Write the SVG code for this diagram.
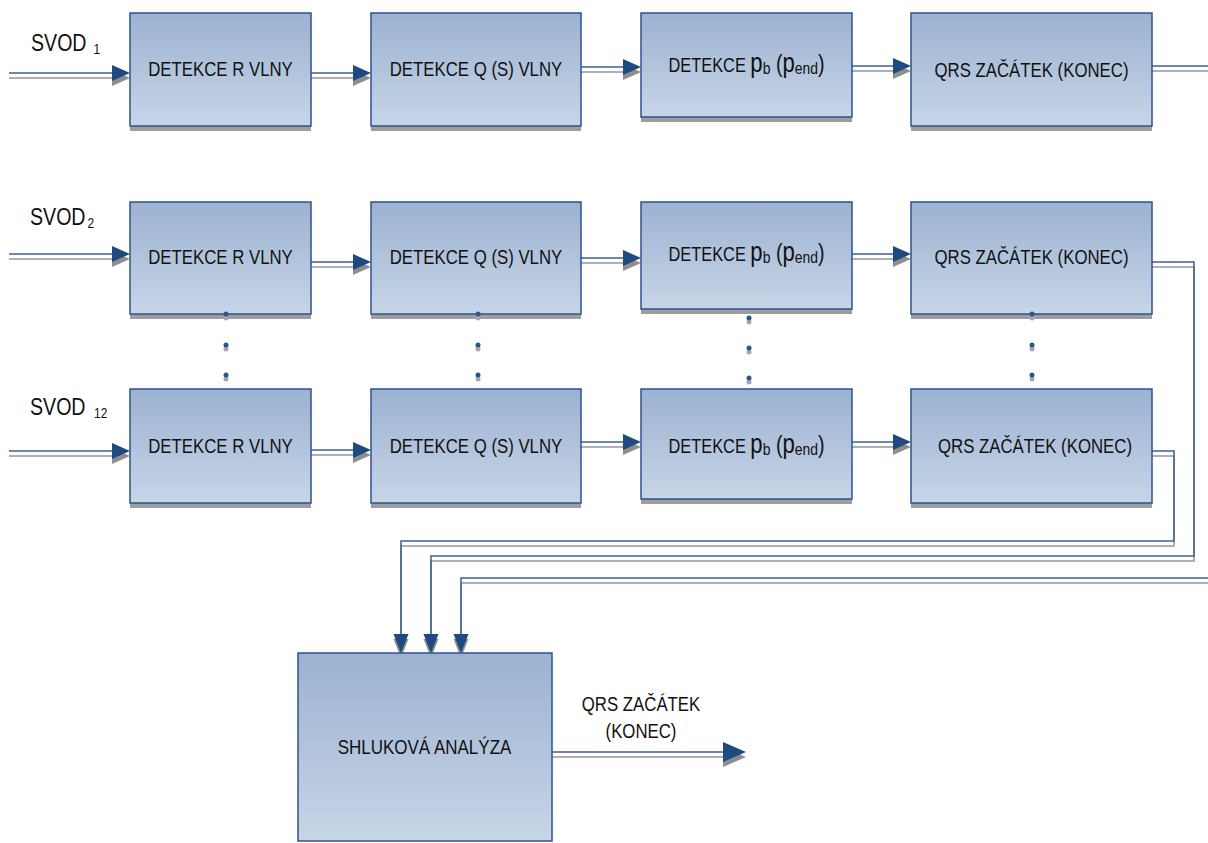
<svg xmlns="http://www.w3.org/2000/svg" width="1208" height="843" viewBox="0 0 1208 843">
<defs>
<linearGradient id="bg" x1="0" y1="0" x2="0" y2="1">
<stop offset="0" stop-color="#9CB2D1"/><stop offset="1" stop-color="#C7D5E7"/>
</linearGradient>
<path id="ar" d="M0,0 L-18,-8 L-18,8 Z"/>
<path id="ad" d="M0,0 L-7.5,-19 L7.5,-19 Z"/>
<path id="ab" d="M0,0 L-23,-10 L-23,10 Z"/>
</defs>
<style>
.box{fill:url(#bg);stroke:#2F528F;stroke-width:1.5}
.sh{fill:#9E9E9E}
.w{fill:none;stroke:#3B5F95;stroke-width:1.5}
.ws{fill:none;stroke:#B0B0B0;stroke-width:2}
.ah{fill:#1F4A7F}
.ahs{fill:#8E8E8E}
.t{font-family:"Liberation Sans",Arial,sans-serif;font-size:20px;fill:#111;text-anchor:middle}
.lb{font-family:"Liberation Sans",Arial,sans-serif;font-size:24.5px;fill:#111}
.dot{fill:#2B5590}
.dsh{fill:#A8A8A8}
</style>
<rect width="1208" height="843" fill="#fff"/>

<g id="labels">
<text class="lb" transform="translate(31,51) scale(0.8,1)">SVOD<tspan x="78" dy="3" font-size="15">1</tspan></text>
<text class="lb" transform="translate(30,225) scale(0.8,1)">SVOD<tspan x="72" dy="3" font-size="15">2</tspan></text>
<text class="lb" transform="translate(30,415) scale(0.8,1)">SVOD<tspan x="80" dy="3" font-size="15">12</tspan></text>
<text class="t" transform="translate(641,711) scale(0.84,1)">QRS ZAČÁTEK</text>
<text class="t" transform="translate(641,738) scale(0.84,1)">(KONEC)</text>
</g>

<g id="connectors">
<g class="ws" transform="translate(0,5)">
<path d="M9,73 H112"/><path d="M311,73 H353"/><path d="M581,67 H623"/><path d="M852,66 H893"/><path d="M1152,66 H1208"/>
<path d="M9,254 H112"/><path d="M311,262 H353"/><path d="M581,258 H623"/><path d="M852,254 H893"/>
<path d="M1152,262 H1194 V556 H431 V634"/>
<path d="M9,451 H112"/><path d="M311,450 H353"/><path d="M581,442 H623"/><path d="M852,442 H893"/>
<path d="M1152,451 H1174 V541 H401 V634"/>
<path d="M1208,578 H461 V634"/>
<path d="M552,752 H723"/>
</g>
<g class="w">
<path d="M9,73 H112"/><path d="M311,73 H353"/><path d="M581,67 H623"/><path d="M852,66 H893"/><path d="M1152,66 H1208"/>
<path d="M9,254 H112"/><path d="M311,262 H353"/><path d="M581,258 H623"/><path d="M852,254 H893"/>
<path d="M1152,262 H1194 V556 H431 V634"/>
<path d="M9,451 H112"/><path d="M311,450 H353"/><path d="M581,442 H623"/><path d="M852,442 H893"/>
<path d="M1152,451 H1174 V541 H401 V634"/>
<path d="M1208,578 H461 V634"/>
<path d="M552,752 H723"/>
</g>
<g class="ahs">
<use href="#ar" x="130" y="78"/><use href="#ar" x="371" y="78"/><use href="#ar" x="641" y="72"/><use href="#ar" x="911" y="71"/>
<use href="#ar" x="130" y="259"/><use href="#ar" x="371" y="267"/><use href="#ar" x="641" y="263"/><use href="#ar" x="911" y="259"/>
<use href="#ar" x="130" y="456"/><use href="#ar" x="371" y="455"/><use href="#ar" x="641" y="447"/><use href="#ar" x="911" y="447"/>
<use href="#ad" x="401" y="658"/><use href="#ad" x="431" y="658"/><use href="#ad" x="461" y="658"/>
<use href="#ab" x="746" y="757"/>
</g>
<g class="ah">
<use href="#ar" x="130" y="73"/><use href="#ar" x="371" y="73"/><use href="#ar" x="641" y="67"/><use href="#ar" x="911" y="66"/>
<use href="#ar" x="130" y="254"/><use href="#ar" x="371" y="262"/><use href="#ar" x="641" y="258"/><use href="#ar" x="911" y="254"/>
<use href="#ar" x="130" y="451"/><use href="#ar" x="371" y="450"/><use href="#ar" x="641" y="442"/><use href="#ar" x="911" y="442"/>
<use href="#ad" x="401" y="653"/><use href="#ad" x="431" y="653"/><use href="#ad" x="461" y="653"/>
<use href="#ab" x="746" y="752"/>
</g>
</g>

<g id="A1"><rect class="sh" x="130" y="18" width="181" height="113"/><rect class="box" x="130" y="13" width="181" height="113"/><text class="t" transform="translate(220.5,76) scale(0.84,1)">DETEKCE R VLNY</text></g>
<g id="B1"><rect class="sh" x="371" y="18" width="210" height="113"/><rect class="box" x="371" y="13" width="210" height="113"/><text class="t" transform="translate(476,76) scale(0.84,1)">DETEKCE Q (S) VLNY</text></g>
<g id="C1"><rect class="sh" x="641" y="18" width="211" height="104"/><rect class="box" x="641" y="13" width="211" height="104"/><text class="t" transform="translate(746.5,72) scale(0.82,1)">DETEKCE <tspan font-size="27">p</tspan><tspan font-size="17" dy="2">b</tspan><tspan font-size="24" dy="-2"> (</tspan><tspan font-size="27">p</tspan><tspan font-size="17" dy="2">end</tspan><tspan font-size="24" dy="-2">)</tspan></text></g>
<g id="D1"><rect class="sh" x="911" y="18" width="241" height="113"/><rect class="box" x="911" y="13" width="241" height="113"/><text class="t" transform="translate(1031.5,77) scale(0.84,1)">QRS ZAČÁTEK (KONEC)</text></g>

<g id="A2"><rect class="sh" x="130" y="207" width="181" height="112"/><rect class="box" x="130" y="202" width="181" height="112"/><text class="t" transform="translate(220.5,264) scale(0.84,1)">DETEKCE R VLNY</text></g>
<g id="B2"><rect class="sh" x="371" y="207" width="210" height="112"/><rect class="box" x="371" y="202" width="210" height="112"/><text class="t" transform="translate(476,264) scale(0.84,1)">DETEKCE Q (S) VLNY</text></g>
<g id="C2"><rect class="sh" x="641" y="207" width="211" height="107"/><rect class="box" x="641" y="202" width="211" height="107"/><text class="t" transform="translate(746.5,261) scale(0.82,1)">DETEKCE <tspan font-size="27">p</tspan><tspan font-size="17" dy="2">b</tspan><tspan font-size="24" dy="-2"> (</tspan><tspan font-size="27">p</tspan><tspan font-size="17" dy="2">end</tspan><tspan font-size="24" dy="-2">)</tspan></text></g>
<g id="D2"><rect class="sh" x="911" y="207" width="241" height="112"/><rect class="box" x="911" y="202" width="241" height="112"/><text class="t" transform="translate(1031.5,264) scale(0.84,1)">QRS ZAČÁTEK (KONEC)</text></g>

<g id="A3"><rect class="sh" x="130" y="394" width="181" height="114"/><rect class="box" x="130" y="389" width="181" height="114"/><text class="t" transform="translate(220.5,453) scale(0.84,1)">DETEKCE R VLNY</text></g>
<g id="B3"><rect class="sh" x="371" y="394" width="210" height="114"/><rect class="box" x="371" y="389" width="210" height="114"/><text class="t" transform="translate(476,453) scale(0.84,1)">DETEKCE Q (S) VLNY</text></g>
<g id="C3"><rect class="sh" x="641" y="394" width="211" height="110"/><rect class="box" x="641" y="389" width="211" height="110"/><text class="t" transform="translate(746.5,453) scale(0.82,1)">DETEKCE <tspan font-size="27">p</tspan><tspan font-size="17" dy="2">b</tspan><tspan font-size="24" dy="-2"> (</tspan><tspan font-size="27">p</tspan><tspan font-size="17" dy="2">end</tspan><tspan font-size="24" dy="-2">)</tspan></text></g>
<g id="D3"><rect class="sh" x="911" y="394" width="241" height="114"/><rect class="box" x="911" y="389" width="241" height="114"/><text class="t" transform="translate(1035,453) scale(0.84,1)">QRS ZAČÁTEK (KONEC)</text></g>

<g id="E"><rect class="box" x="298" y="653" width="254" height="188"/><text class="t" transform="translate(424.5,754) scale(0.85,1)">SHLUKOVÁ ANALÝZA</text></g>

<g id="dots">
<g class="dsh">
<circle cx="226" cy="318" r="2.5"/><circle cx="226" cy="349" r="2.5"/><circle cx="226" cy="379" r="2.5"/>
<circle cx="478" cy="318" r="2.5"/><circle cx="478" cy="349" r="2.5"/><circle cx="478" cy="379" r="2.5"/>
<circle cx="749" cy="322" r="2.5"/><circle cx="749" cy="352" r="2.5"/><circle cx="749" cy="382" r="2.5"/>
<circle cx="1032" cy="318" r="2.5"/><circle cx="1032" cy="349" r="2.5"/><circle cx="1032" cy="379" r="2.5"/>
</g>
<g class="dot">
<circle cx="226" cy="314" r="2.5"/><circle cx="226" cy="345" r="2.5"/><circle cx="226" cy="375" r="2.5"/>
<circle cx="478" cy="314" r="2.5"/><circle cx="478" cy="345" r="2.5"/><circle cx="478" cy="375" r="2.5"/>
<circle cx="749" cy="318" r="2.5"/><circle cx="749" cy="348" r="2.5"/><circle cx="749" cy="378" r="2.5"/>
<circle cx="1032" cy="314" r="2.5"/><circle cx="1032" cy="345" r="2.5"/><circle cx="1032" cy="375" r="2.5"/>
</g>
</g>
</svg>
